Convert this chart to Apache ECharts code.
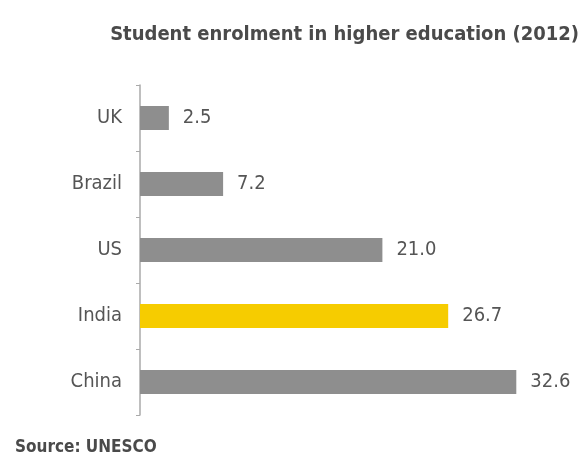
<!DOCTYPE html>
<html>
<head>
<meta charset="utf-8">
<script src="https://cdn.jsdelivr.net/npm/echarts@6/dist/echarts.min.js"></script>
<style>
  html, body { margin: 0; padding: 0; background: #fff; }
  #chart { width: 587px; height: 465px; }
</style>
</head>
<body>
<div id="chart"></div>
<script>
// 数据
var countries = ['UK', 'Brazil', 'US', 'India', 'China'];
var enrolment = [2.5, 7.2, 21.0, 26.7, 32.6];
var highlight = 'India';

var FONT = '"DejaVu Sans Condensed", "Liberation Sans Narrow", "Noto Sans", sans-serif';

var myChart = echarts.init(document.getElementById('chart'));

var barData = [];
for (var i = 0; i < countries.length; i++) {
  barData.push({
    value: enrolment[i],
    itemStyle: { color: countries[i] == highlight ? '#f6cc00' : '#8e8e8e' },
  });
}

var option = {
  animation: false,
  backgroundColor: '#fff',
  title: [
    {
      text: 'Student enrolment in higher education (2012)',
      right: 3,
      top: 20,
      textStyle: { fontFamily: FONT, fontSize: 20, fontWeight: 'bold', color: '#4a4a4a' },
    },
    {
      text: 'Source: UNESCO',
      left: 10,
      top: 434,
      textStyle: { fontFamily: FONT, fontSize: 17, fontWeight: 'bold', color: '#4a4a4a' },
    },
  ],
  grid: { left: 140, top: 85, width: 404, height: 330 },
  xAxis: {
    type: 'value',
    min: 0,
    max: 35,
    show: false,
  },
  yAxis: {
    type: 'category',
    data: countries,
    inverse: true,
    axisLine: { show: true, lineStyle: { color: '#aaa', width: 1.5 } },
    axisTick: { show: true, length: 4, lineStyle: { color: '#aaa' } },
    axisLabel: { fontFamily: FONT, fontSize: 20, color: '#555', margin: 18 },
  },
  series: [
    {
      type: 'bar',
      data: barData,
      barWidth: 24,
      label: {
        show: true,
        position: 'right',
        distance: 14,
        fontFamily: FONT,
        fontSize: 20,
        color: '#555',
        formatter: function(p) {
          return p.value.toFixed(1);
        },
      },
    },
  ],
};
myChart.setOption(option);
</script>
</body>
</html>
